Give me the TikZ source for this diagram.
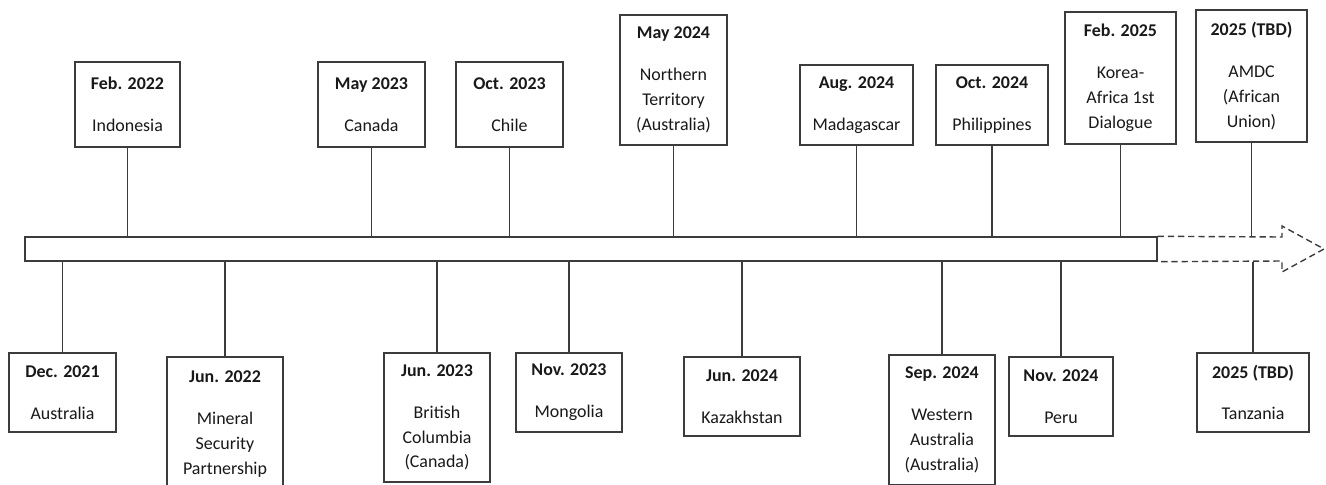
\documentclass[tikz,border=0pt]{standalone}
\usepackage{fontspec}
\setmainfont{Carlito}
\usetikzlibrary{positioning}
\definecolor{tlLine}{RGB}{60,60,60}
\definecolor{tlText}{RGB}{25,25,25}
\tikzset{
    event/.style={rectangle, draw=tlLine, line width=0.8pt, fill=white, text=tlText,
                  align=center, inner sep=0pt,
                  font=\fontsize{10.2}{14.2}\selectfont},
    stem/.style={draw=tlLine, line width=0.8pt},
    axis/.style={rectangle, draw=tlLine, line width=0.8pt, fill=white, inner sep=0pt,
                 minimum width=22.64cm, minimum height=0.48cm},
    future/.style={draw=tlLine, line width=0.8pt, dash pattern=on 3.6pt off 2.2pt}
}
\newcommand{\gap}{\\[9.6pt]}
\begin{document}
\begin{tikzpicture}[x=0.02cm, y=-0.02cm]
  \clip (0,0) rectangle (1326,484);
  \fill[white] (0,0) rectangle (1326,484);

  % Timeline bar
  \node[axis] (bar) at (591,249) {};
  \draw[future] (bar.north east) -- (1282,237) -- (1282,226) -- (1324,249)
    -- (1282,272) -- (1282,261) -- (bar.south east);

  % Events above the bar
  \node[event, minimum width=2.1cm, minimum height=1.7cm] (feb22) at (127.5,104.5) {\textbf{Feb. 2022}\gap Indonesia};
  \node[event, minimum width=2.14cm, minimum height=1.7cm] (may23) at (371.5,104.5) {\textbf{May 2023}\gap Canada};
  \node[event, minimum width=2.14cm, minimum height=1.7cm] (oct23) at (509.5,104.5) {\textbf{Oct. 2023}\gap Chile};
  \node[event, minimum width=2.14cm, minimum height=2.6cm] (may24) at (673.5,80) {\textbf{May 2024}\gap Northern\\Territory\\(Australia)};
  \node[event, minimum width=2.26cm, minimum height=1.6cm] (aug24) at (856.5,105) {\textbf{Aug. 2024}\gap Madagascar};
  \node[event, minimum width=2.24cm, minimum height=1.6cm] (oct24) at (992,105) {\textbf{Oct. 2024}\gap Philippines};
  \node[event, minimum width=2.22cm, minimum height=2.64cm] (feb25) at (1120.5,78) {\textbf{Feb. 2025}\gap Korea-\\Africa 1st\\Dialogue};
  \node[event, minimum width=2.22cm, minimum height=2.64cm] (amdc) at (1251.5,76) {\textbf{2025 (TBD)}\gap AMDC\\(African\\Union)};

  % Events below the bar
  \node[event, minimum width=2.14cm, minimum height=1.58cm] (dec21) at (62.5,392.5) {\textbf{Dec. 2021}\gap Australia};
  \node[event, minimum width=2.32cm, minimum height=2.68cm] (jun22) at (225,424) {\textbf{Jun. 2022}\gap Mineral\\Security\\Partnership};
  \node[event, minimum width=2.12cm, minimum height=2.58cm] (jun23) at (437,417.5) {\textbf{Jun. 2023}\gap British\\Columbia\\(Canada)};
  \node[event, minimum width=2.12cm, minimum height=1.58cm] (nov23) at (569,392.5) {\textbf{Nov. 2023}\gap Mongolia};
  \node[event, minimum width=2.32cm, minimum height=1.58cm] (jun24) at (742,396.5) {\textbf{Jun. 2024}\gap Kazakhstan};
  \node[event, minimum width=2.12cm, minimum height=2.6cm] (sep24) at (942,420) {\textbf{Sep. 2024}\gap Western\\Australia\\(Australia)};
  \node[event, minimum width=2.08cm, minimum height=1.58cm] (nov24) at (1061,396.5) {\textbf{Nov. 2024}\gap Peru};
  \node[event, minimum width=2.24cm, minimum height=1.58cm] (tan) at (1253,392.5) {\textbf{2025 (TBD)}\gap Tanzania};

  % Stems
  \foreach \e in {feb22,may23,oct23,may24,aug24,oct24,feb25,amdc}
    \draw[stem] (\e.south) -- (\e.south |- bar.north);
  \foreach \e in {dec21,jun22,jun23,nov23,jun24,sep24,nov24,tan}
    \draw[stem] (\e.north) -- (\e.north |- bar.south);
\end{tikzpicture}
\end{document}
